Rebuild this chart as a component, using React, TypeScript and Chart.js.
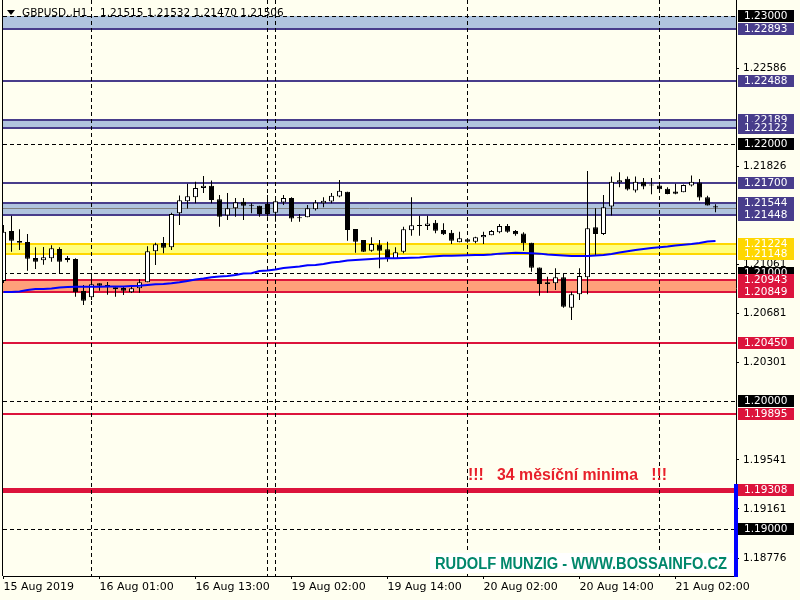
import React, { useEffect, useRef } from "react";
import { Chart, registerables } from "chart.js";

Chart.register(...registerables);

// ---------------- data ----------------
const SYMBOL = "GBPUSD.,H1";
const LAST_QUOTE = "1.21515 1.21532 1.21470 1.21506";

const OPEN = [
  1.20934, 1.21324, 1.21246, 1.21238, 1.21113, 1.21095, 1.21111, 1.21183, 1.21098, 1.21105,
  1.20856, 1.20807, 1.20916, 1.20903, 1.20885, 1.20879, 1.20846, 1.20877, 1.20924, 1.21165,
  1.2123, 1.21197, 1.21462, 1.21555, 1.21586, 1.21657, 1.21675, 1.21571, 1.21443, 1.21501,
  1.2155, 1.21524, 1.21519, 1.21534, 1.21466, 1.21544, 1.21579, 1.2143, 1.2143, 1.21493,
  1.2154, 1.21552, 1.21591, 1.21628, 1.21339, 1.21253, 1.2117, 1.21218, 1.21181, 1.21105,
  1.21162, 1.21329, 1.2137, 1.21363, 1.21388, 1.21331, 1.2131, 1.21236, 1.21259, 1.2124,
  1.21275, 1.2129, 1.21314, 1.21363, 1.21324, 1.21303, 1.21232, 1.2104, 1.20924, 1.20916,
  1.20963, 1.20726, 1.2083, 1.20963, 1.21352, 1.213, 1.21513, 1.217, 1.21729, 1.21638,
  1.21706, 1.21682, 1.21677, 1.21651, 1.2163, 1.21625, 1.21677, 1.217, 1.21586, 1.21515,
];
const HIGH = [
  1.2137, 1.21441, 1.21337, 1.213, 1.21197, 1.21199, 1.21212, 1.21197, 1.21129, 1.21111,
  1.20903, 1.20986, 1.20916, 1.20926, 1.20885, 1.20892, 1.20895, 1.20947, 1.21204, 1.21232,
  1.21277, 1.21466, 1.21599, 1.2169, 1.21706, 1.21752, 1.21716, 1.21604, 1.21618, 1.21579,
  1.21579, 1.2154, 1.21519, 1.21604, 1.21571, 1.21604, 1.21586, 1.21456, 1.21526, 1.21565,
  1.21586, 1.21618, 1.21721, 1.21628, 1.21339, 1.21253, 1.21275, 1.21253, 1.2124, 1.21197,
  1.21357, 1.21586, 1.21441, 1.21441, 1.21409, 1.21384, 1.21331, 1.21318, 1.21267, 1.21279,
  1.21318, 1.21331, 1.21378, 1.21378, 1.21331, 1.21314, 1.21232, 1.2104, 1.20967, 1.21033,
  1.20994, 1.2085, 1.21033, 1.21791, 1.21501, 1.21604, 1.21747, 1.21781, 1.21747, 1.21747,
  1.21735, 1.21735, 1.21688, 1.21664, 1.2169, 1.21686, 1.21755, 1.21727, 1.21597, 1.21532,
];
const LOW = [
  1.20918, 1.21162, 1.21176, 1.21014, 1.21027, 1.21061, 1.21084, 1.20994, 1.2108, 1.20811,
  1.20747, 1.20786, 1.20858, 1.20827, 1.20811, 1.20825, 1.2084, 1.20843, 1.20924, 1.21059,
  1.2115, 1.21176, 1.2137, 1.21498, 1.2154, 1.21618, 1.2154, 1.21357, 1.21409, 1.21435,
  1.21409, 1.21462, 1.21435, 1.21435, 1.21396, 1.21526, 1.21396, 1.21396, 1.2143, 1.21482,
  1.21508, 1.2154, 1.21586, 1.21248, 1.21154, 1.2116, 1.21162, 1.21033, 1.21084, 1.21105,
  1.2115, 1.21287, 1.21287, 1.21331, 1.21306, 1.21292, 1.21222, 1.21236, 1.21232, 1.21228,
  1.21222, 1.2129, 1.21306, 1.2131, 1.21287, 1.2117, 1.21006, 1.20819, 1.20843, 1.20864,
  1.20726, 1.2063, 1.20786, 1.2083, 1.21129, 1.21292, 1.21443, 1.21664, 1.21638, 1.21622,
  1.21649, 1.2161, 1.21618, 1.2161, 1.2161, 1.21624, 1.21669, 1.2156, 1.21521, 1.2147,
];
const CLOSE = [
  1.21318, 1.21248, 1.21232, 1.21108, 1.21084, 1.21119, 1.21189, 1.21084, 1.21113, 1.20846,
  1.2078, 1.20908, 1.20897, 1.20885, 1.20869, 1.20858, 1.20877, 1.20924, 1.21165, 1.2122,
  1.21193, 1.21456, 1.21563, 1.21594, 1.21657, 1.21675, 1.21565, 1.21435, 1.21501, 1.21547,
  1.21519, 1.21519, 1.21456, 1.21456, 1.21555, 1.21579, 1.2142, 1.21422, 1.21501, 1.21544,
  1.21558, 1.21597, 1.21636, 1.21331, 1.2124, 1.21162, 1.21222, 1.2117, 1.21105, 1.21158,
  1.21337, 1.21368, 1.21363, 1.21381, 1.21326, 1.21298, 1.21248, 1.21267, 1.2124, 1.21275,
  1.21292, 1.21324, 1.21363, 1.21318, 1.21298, 1.21228, 1.21037, 1.2091, 1.2091, 1.20963,
  1.20733, 1.2083, 1.20973, 1.21345, 1.213, 1.21508, 1.21706, 1.21719, 1.21646, 1.21706,
  1.21669, 1.21677, 1.21649, 1.21612, 1.21614, 1.21682, 1.21706, 1.21583, 1.21521, 1.21506,
];
const MA = [
  1.20848, 1.20848, 1.20852, 1.20864, 1.20871, 1.20871, 1.20875, 1.20883, 1.20887, 1.20889,
  1.20889, 1.20889, 1.20889, 1.20891, 1.20892, 1.20892, 1.20895, 1.20897, 1.20903, 1.20908,
  1.2091, 1.20916, 1.20924, 1.20934, 1.20945, 1.20953, 1.20963, 1.20969, 1.20973, 1.20981,
  1.20992, 1.20994, 1.21012, 1.21016, 1.21023, 1.21035, 1.21041, 1.21047, 1.21056, 1.21059,
  1.21066, 1.21078, 1.21084, 1.21094, 1.21098, 1.21101, 1.21105, 1.21109, 1.21111, 1.21112,
  1.21113, 1.21115, 1.21117, 1.21123, 1.21127, 1.21131, 1.21131, 1.21132, 1.21134, 1.21137,
  1.21137, 1.2114, 1.21147, 1.2115, 1.21154, 1.21152, 1.2115, 1.21147, 1.2114, 1.21137,
  1.21133, 1.21129, 1.21129, 1.21129, 1.21133, 1.21137, 1.21144, 1.21155, 1.21165, 1.21176,
  1.21183, 1.21191, 1.21197, 1.21203, 1.21211, 1.21217, 1.21222, 1.2123, 1.21242, 1.21246,
];

const X_TICK_POS = [0, 12, 24, 36, 48, 60, 72, 84];
const X_TICK_LABELS = [
  "15 Aug 2019", "16 Aug 01:00", "16 Aug 13:00", "19 Aug 02:00",
  "19 Aug 14:00", "20 Aug 02:00", "20 Aug 14:00", "21 Aug 02:00",
];
const Y_TICKS = [1.22586, 1.21826, 1.21061, 1.20681, 1.20301, 1.19541, 1.19161, 1.18776];

const ROUND_LEVELS = [1.23, 1.22, 1.21, 1.2, 1.19];
const RESISTANCE_LEVELS = [1.22893, 1.22488, 1.22189, 1.22122, 1.217, 1.21544, 1.21448];
const PIVOT_LEVELS = [1.21224, 1.21148];
const SUPPORT_LEVELS = [1.20943, 1.20849, 1.2045, 1.19895];
const MULTI_MONTH_LOW = 1.19308;
const BID = 1.21506;
const RESISTANCE_ZONES = [[1.23, 1.22893], [1.22189, 1.22122], [1.21544, 1.21448]];
const PIVOT_ZONE = [1.21224, 1.21148];
const SUPPORT_ZONE = [1.20943, 1.20849];
const SEPARATORS = [11, 33, 34, 58, 82];
const NOTE = "!!!   34 měsíční minima   !!!";
const SIGNATURE = "RUDOLF MUNZIG - WWW.BOSSAINFO.CZ";

// ---------------- styles ----------------
const BG = "#FFFFF0";
const NAVY = "#483D8B";
const STEEL = "#B0C4DE";
const GOLD = "#FFD700";
const YELLOW = "#FFFF80";
const CRIMSON = "#DC143C";
const SALMON = "#FFA07A";
const GRAY = "#808080";
const TEAL = "#00876B";
const NOTE_RED = "#E8202A";
const FONT = '"DejaVu Sans"';

const Y_MIN = 1.18638;
const Y_MAX = 1.23121;
const X_MIN = -0.0625;
const X_MAX = 91.5625;

const mt4Plugin = {
  id: "mt4",
  beforeDraw(chart: any) {
    const ctx = chart.ctx;
    ctx.save();
    ctx.fillStyle = BG;
    ctx.fillRect(0, 0, chart.width, chart.height);
    ctx.restore();
  },
  beforeDatasetsDraw(chart: any) {
    const { ctx, chartArea: a, scales } = chart;
    const x = scales.x;
    const y = scales.y;
    const L = a.left;
    const R = a.right;
    const py = (p: number) => y.getPixelForValue(p);
    ctx.save();
    ctx.beginPath();
    ctx.rect(a.left, a.top, a.right - a.left, a.bottom - a.top);
    ctx.clip();
    const band = (z: number[], color: string) => {
      const y1 = Math.round(py(z[0]));
      const y2 = Math.round(py(z[1]));
      ctx.fillStyle = color;
      ctx.fillRect(L, y1, R - L, y2 - y1);
    };
    RESISTANCE_ZONES.forEach((z) => band(z, STEEL));
    band(PIVOT_ZONE, YELLOW);
    band(SUPPORT_ZONE, SALMON);
    const hline = (p: number, color: string, w: number, dash: number[] = []) => {
      let yy = Math.round(py(p));
      if (w % 2 === 1) yy += 0.5;
      ctx.strokeStyle = color;
      ctx.lineWidth = w;
      ctx.setLineDash(dash);
      ctx.beginPath();
      ctx.moveTo(L, yy);
      ctx.lineTo(R, yy);
      ctx.stroke();
    };
    hline(BID, GRAY, 1);
    RESISTANCE_LEVELS.forEach((p) => hline(p, NAVY, 2));
    PIVOT_LEVELS.forEach((p) => hline(p, GOLD, 2));
    SUPPORT_LEVELS.forEach((p) => hline(p, CRIMSON, 2));
    hline(MULTI_MONTH_LOW, CRIMSON, 5);
    ROUND_LEVELS.forEach((p) => hline(p, "#000", 1, [4, 3]));
    ctx.setLineDash([4, 3]);
    ctx.strokeStyle = "#000";
    ctx.lineWidth = 1;
    SEPARATORS.forEach((i) => {
      const xx = Math.floor(x.getPixelForValue(i)) + 0.5;
      ctx.beginPath();
      ctx.moveTo(xx, a.top);
      ctx.lineTo(xx, a.bottom);
      ctx.stroke();
    });
    ctx.restore();
  },
  afterDraw(chart: any) {
    const { ctx, chartArea: a, scales } = chart;
    const y = scales.y;
    const py = (p: number) => y.getPixelForValue(p);
    ctx.save();
    // signature box
    ctx.fillStyle = "#FFFFFF";
    ctx.fillRect(430, 553, 303, 20);
    ctx.textAlign = "left";
    ctx.textBaseline = "alphabetic";
    ctx.fillStyle = TEAL;
    ctx.font = 'bold 16px "Liberation Sans"';
    ctx.fillText(SIGNATURE, 435, 569, 292);
    ctx.fillStyle = NOTE_RED;
    ctx.font = 'bold 17px "Liberation Sans"';
    ctx.fillText(NOTE, 468, 479.5, 199);

    // header
    ctx.fillStyle = "#000";
    ctx.beginPath();
    ctx.moveTo(7, 10);
    ctx.lineTo(15, 10);
    ctx.lineTo(11, 15);
    ctx.closePath();
    ctx.fill();
    ctx.font = `10.5px ${FONT}`;
    ctx.fillText(SYMBOL, 22, 16);
    ctx.fillText(LAST_QUOTE, 100, 16);

    // left frame
    ctx.fillRect(a.left - 1, a.top, 1, a.bottom - a.top);

    // price labels
    const labels: [number, string][] = [
      ...ROUND_LEVELS.map((p) => [p, "#000000"] as [number, string]),
      ...RESISTANCE_LEVELS.map((p) => [p, NAVY] as [number, string]),
      ...PIVOT_LEVELS.map((p) => [p, GOLD] as [number, string]),
      ...SUPPORT_LEVELS.map((p) => [p, CRIMSON] as [number, string]),
      [MULTI_MONTH_LOW, CRIMSON] as [number, string],
    ].sort((p, q) => q[0] - p[0]);
    ctx.font = `10.5px ${FONT}`;
    ctx.textBaseline = "middle";
    labels.forEach(([p, c]) => {
      const yy = Math.round(py(p));
      ctx.fillStyle = c;
      ctx.fillRect(a.right + 2, yy - 6, 56, 12);
      ctx.fillStyle = "#FFFFFF";
      ctx.fillText(p.toFixed(5), a.right + 8, yy + 0.5);
    });

    // blue marker on the price axis
    ctx.fillStyle = "#0000FF";
    ctx.fillRect(a.right - 2, 484, 4, a.bottom - 484 + 1);
    ctx.restore();
  },
};

export default function App() {
  const ref = useRef<HTMLCanvasElement>(null);
  useEffect(() => {
    const canvas = ref.current;
    if (!canvas) return;
    const bull = OPEN.map((o, i) => CLOSE[i] >= o);
    const chart = new Chart(canvas, {
      type: "line",
      data: {
        datasets: [
          {
            type: "line",
            label: "MA",
            data: MA.map((v, i) => ({ x: i, y: v })),
            borderColor: "#0000FF",
            borderWidth: 2,
            pointRadius: 0,
            tension: 0,
            order: 0,
          } as any,
          {
            type: "bar",
            label: "body",
            data: OPEN.map((o, i) => ({ x: i, y: [o, CLOSE[i]] })),
            backgroundColor: bull.map((b) => (b ? "#FFFFFF" : "#000000")),
            borderColor: "#000000",
            borderWidth: 1,
            borderSkipped: false,
            inflateAmount: 0,
            barThickness: 5,
            minBarLength: 1,
            grouped: false,
            order: 1,
          } as any,
          {
            type: "bar",
            label: "wick",
            data: LOW.map((l, i) => ({ x: i, y: [l, HIGH[i]] })),
            backgroundColor: "#000000",
            borderWidth: 0,
            inflateAmount: 0,
            barThickness: 1,
            grouped: false,
            order: 2,
          } as any,
        ],
      },
      options: {
        responsive: false,
        animation: false,
        events: [],
        layout: { padding: { left: 3, top: 0, right: 0, bottom: 0 } },
        plugins: { legend: { display: false }, tooltip: { enabled: false }, title: { display: false } },
        scales: {
          x: {
            type: "linear",
            position: "bottom",
            min: X_MIN,
            max: X_MAX,
            offset: false,
            afterBuildTicks: (s: any) => {
              s.ticks = X_TICK_POS.map((v) => ({ value: v }));
            },
            afterFit: (s: any) => {
              s.height = 24;
              s.paddingLeft = 0;
              s.paddingRight = 0;
            },
            ticks: {
              autoSkip: false,
              maxRotation: 0,
              minRotation: 0,
              align: "start",
              padding: 2,
              color: "#000000",
              font: { family: "DejaVu Sans", size: 11 },
              callback: (_v: any, i: number) => X_TICK_LABELS[i] ?? "",
            },
            grid: { drawOnChartArea: false, drawTicks: true, tickLength: 3, color: "#000000", offset: false },
            border: { display: true, color: "#000000", width: 1 },
          } as any,
          y: {
            type: "linear",
            position: "right",
            min: Y_MIN,
            max: Y_MAX,
            afterBuildTicks: (s: any) => {
              s.ticks = Y_TICKS.map((v) => ({ value: v }));
            },
            afterFit: (s: any) => {
              s.width = 64;
              s.paddingTop = 0;
              s.paddingBottom = 0;
            },
            ticks: {
              autoSkip: false,
              padding: 4,
              color: "#000000",
              font: { family: "DejaVu Sans", size: 10.5 },
              callback: (v: any) => Number(v).toFixed(5),
            },
            grid: { drawOnChartArea: false, drawTicks: true, tickLength: 3, color: "#000000" },
            border: { display: true, color: "#000000", width: 1 },
          } as any,
        },
      },
      plugins: [mt4Plugin],
    } as any);
    return () => chart.destroy();
  }, []);
  return (
    <div style={{ position: "fixed", left: 0, top: 0, width: 800, height: 600, background: BG }}>
      <canvas ref={ref} width={800} height={600} style={{ display: "block", width: 800, height: 600 }} />
    </div>
  );
}
